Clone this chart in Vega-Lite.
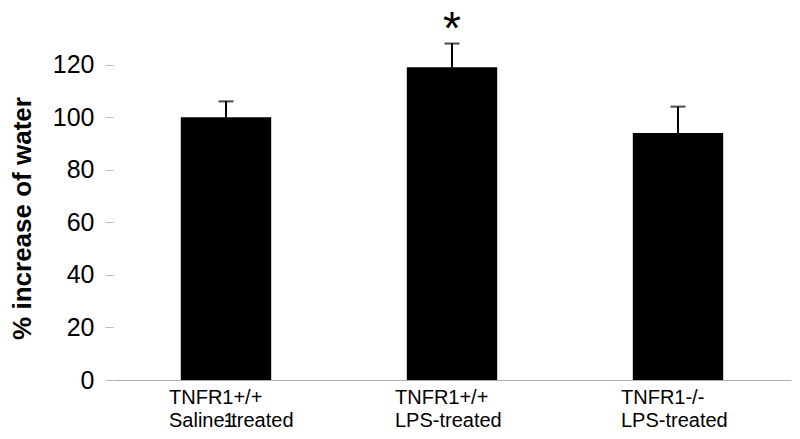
{
  "$schema": "https://vega.github.io/schema/vega-lite/v6.json",
  "autosize": "none",
  "width": 678,
  "height": 368,
  "padding": {"left": 113, "top": 12, "right": 9, "bottom": 59},
  "background": "white",
  "config": {"view": {"stroke": null}, "font": "Liberation Sans"},
  "data": {
    "values": [
      {"group": "TNFR1+/+|Saline-treated", "value": 100, "upper": 106, "star": "", "note": "1"},
      {"group": "TNFR1+/+|LPS-treated", "value": 119, "upper": 128, "star": "*", "note": ""},
      {"group": "TNFR1-/-|LPS-treated", "value": 94, "upper": 104, "star": "", "note": ""}
    ]
  },
  "encoding": {
    "x": {
      "field": "group",
      "type": "nominal",
      "sort": null,
      "scale": {"paddingInner": 0.6, "paddingOuter": 0.3},
      "axis": {
        "title": null,
        "labelAngle": 0,
        "labelExpr": "split(datum.label, '|')",
        "labelAlign": "left",
        "labelOffset": -57,
        "labelFontSize": 20,
        "labelColor": "black",
        "labelLineHeight": 23,
        "labelPadding": 7,
        "ticks": false,
        "domainColor": "#aaaaaa",
        "domainWidth": 1,
        "grid": false
      }
    }
  },
  "layer": [
    {
      "mark": {"type": "bar", "color": "black"},
      "encoding": {
        "y": {
          "field": "value",
          "type": "quantitative",
          "scale": {"domain": [0, 140]},
          "axis": {
            "title": "% increase of water",
            "titleFontSize": 26,
            "titleFontWeight": "bold",
            "titleColor": "black",
            "titleX": -91,
            "titleY": 206,
            "titleBaseline": "middle",
            "titleAlign": "center",
            "values": [0, 20, 40, 60, 80, 100, 120],
            "labelFontSize": 25,
            "labelColor": "black",
            "labelPadding": 11,
            "tickSize": 8,
            "tickColor": "#bbbbbb",
            "domain": false,
            "grid": false
          }
        }
      }
    },
    {
      "mark": {"type": "rule", "color": "black", "strokeWidth": 2},
      "encoding": {
        "y": {"field": "value", "type": "quantitative"},
        "y2": {"field": "upper"}
      }
    },
    {
      "mark": {"type": "tick", "color": "black", "thickness": 2, "size": 15, "orient": "horizontal"},
      "encoding": {
        "y": {"field": "upper", "type": "quantitative"}
      }
    },
    {
      "mark": {"type": "text", "fontSize": 46, "baseline": "alphabetic", "align": "center", "color": "black"},
      "encoding": {
        "y": {"field": "upper", "type": "quantitative"},
        "text": {"field": "star"}
      }
    },
    {
      "mark": {"type": "text", "fontSize": 20, "baseline": "alphabetic", "align": "center", "color": "black", "dx": 3, "dy": 47},
      "encoding": {
        "y": {"datum": 0, "type": "quantitative"},
        "text": {"field": "note"}
      }
    }
  ]
}
